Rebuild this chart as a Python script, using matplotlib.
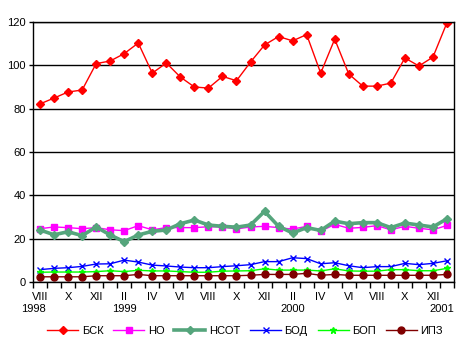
import numpy as np
import matplotlib
matplotlib.use('Agg')
import matplotlib.pyplot as plt
import matplotlib.transforms as mtransforms
from matplotlib.ticker import FixedLocator

plt.rcParams['font.family'] = ['Liberation Sans', 'DejaVu Sans']

# ===данные, значения (VIII 1998 - I 2001)
bsk = [82.2, 84.9, 87.7, 88.6, 100.8, 102.0, 105.4, 110.3, 96.4, 101.1, 94.6, 90.0, 89.5, 94.9, 92.9,
       101.5, 109.4, 113.3, 111.3, 114.2, 96.4, 112.1, 96.0, 90.4, 90.4, 91.8, 103.4, 99.7, 103.8, 119.7]
no = [24.6, 25.4, 25.1, 24.6, 25.1, 24.1, 23.7, 26.0, 24.1, 25.1, 25.1, 25.1, 25.5, 25.4, 24.5,
      25.4, 25.7, 25.1, 24.4, 25.7, 23.4, 26.6, 24.8, 25.2, 26.0, 24.1, 25.7, 24.8, 24.1, 26.1]
nsot = [24.0, 21.8, 23.2, 21.4, 25.4, 21.7, 18.6, 21.7, 23.4, 24.0, 26.9, 28.6, 26.3, 25.7, 25.3,
        26.3, 32.6, 25.7, 22.6, 25.1, 23.8, 28.1, 26.9, 27.4, 27.4, 25.1, 27.2, 26.3, 25.4, 29.2]
bod = [5.7, 6.3, 6.6, 7.2, 8.3, 8.4, 10.1, 9.2, 7.8, 7.4, 6.9, 6.6, 6.6, 7.1, 7.5,
       8.0, 9.4, 9.4, 11.2, 10.8, 8.4, 8.9, 7.5, 6.6, 7.1, 7.1, 8.6, 8.0, 8.6, 9.8]
bop = [4.5, 4.6, 4.6, 4.6, 4.8, 5.2, 4.8, 5.4, 5.1, 5.1, 4.8, 4.5, 4.5, 5.0, 5.1,
       5.2, 6.1, 5.5, 5.5, 5.5, 5.1, 6.1, 5.1, 5.0, 5.0, 5.7, 5.7, 5.2, 5.2, 6.3]
ipz = [2.4, 2.4, 2.4, 2.4, 2.9, 2.9, 2.9, 3.5, 2.9, 2.9, 2.9, 2.9, 2.9, 2.9, 2.9,
       3.1, 3.5, 3.5, 3.5, 4.0, 3.1, 3.5, 3.1, 3.1, 3.1, 3.1, 3.1, 3.1, 3.1, 3.5]

# подписи оси X (месяцы через один) и годы
month_pos = [0, 2, 4, 6, 8, 10, 12, 14, 16, 18, 20, 22, 24, 26, 28]
month_txt = ['VIII', 'X', 'XII', 'II', 'IV', 'VI', 'VIII', 'X', 'XII', 'II', 'IV', 'VI', 'VIII', 'X', 'XII']
year_txt = ['1998', '1999', '2000', '2001']
year_pos = [-0.5, 6, 18, 29.5]
year_ha = ['center', 'center', 'center', 'right']

x = np.arange(len(bsk))

fig = plt.figure(figsize=(4.69, 3.51), dpi=100)
ax = fig.add_axes([33 / 469, 69 / 351, 421 / 469, 260 / 351])

ax.plot(x, bsk, color='#FF0000', lw=1, marker='D', ms=4.5, label='БСК')
ax.plot(x, no, color='#FF00FF', lw=1, marker='s', ms=5, label='НО')
ax.plot(x, nsot, color='#55A57C', lw=2.6, marker='D', ms=4.5, label='НСОТ')
ax.plot(x, bod, color='#0000FF', lw=1, marker='x', ms=4, mew=1, label='БОД')
ax.plot(x, bop, color='#00FF00', lw=1, marker='*', ms=5, label='БОП')
ax.plot(x, ipz, color='#800000', lw=1, marker='o', ms=5, label='ИПЗ')

ax.set_xlim(-0.5, len(bsk) - 0.5)
ax.set_ylim(0, 120)
ax.set_yticks(range(0, 121, 20))
ax.yaxis.grid(True, color='black', lw=1)
ax.set_axisbelow(True)
ax.tick_params(axis='y', labelsize=8, length=3, width=1, direction='out', pad=2)

ax.set_xticks(month_pos)
ax.set_xticklabels(month_txt, fontsize=8)
ax.tick_params(axis='x', which='major', length=0, pad=7)
ax.xaxis.set_minor_locator(FixedLocator(np.arange(-0.5, len(bsk), 1)))
ax.tick_params(axis='x', which='minor', length=4, width=1, direction='out')

trans = mtransforms.blended_transform_factory(ax.transData, ax.transAxes)
for pos, txt, ha in zip(year_pos, year_txt, year_ha):
    ax.text(pos, -30 / 260, txt, transform=trans, ha=ha, va='baseline', fontsize=8)

for s in ax.spines.values():
    s.set_color('black')
    s.set_linewidth(1)

fig.legend(loc='center', bbox_to_anchor=(245 / 469, 20 / 351), ncol=6, frameon=False,
           fontsize=8, handlelength=2.8, columnspacing=0.9, handletextpad=0.3)

fig.savefig('out.png', dpi=100)
